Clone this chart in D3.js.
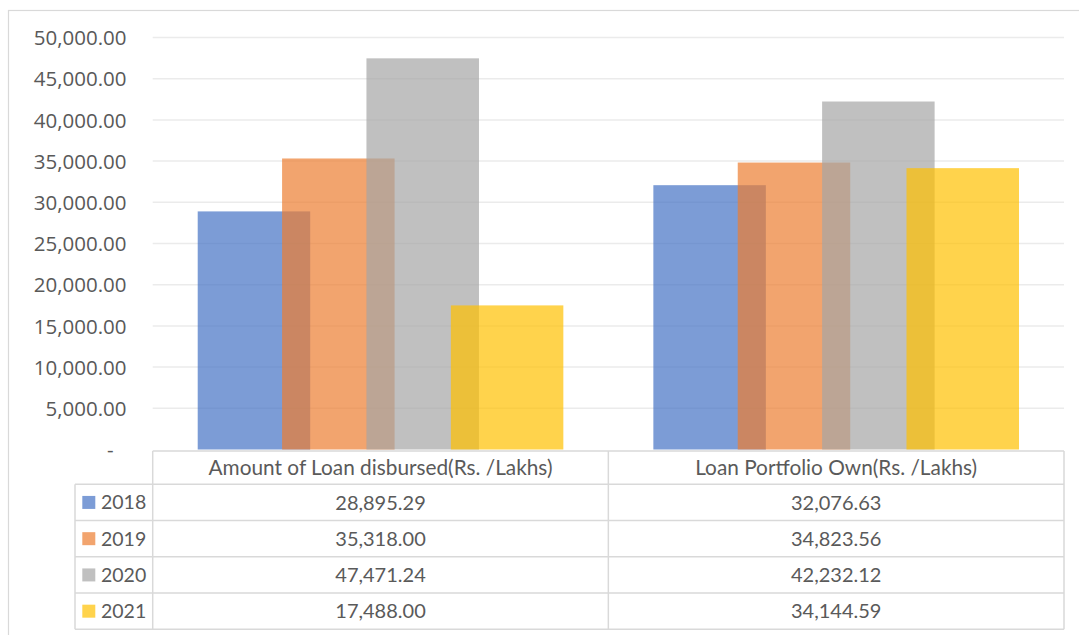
<!DOCTYPE html>
<html>
<head>
<meta charset="utf-8">
<script src="https://cdn.jsdelivr.net/npm/d3@7"></script>
<style>
  html, body { margin: 0; padding: 0; background: #fff; }
  svg { display: block; }
</style>
</head>
<body>
<svg id="chart" width="1079" height="635"></svg>
<script>
// Loan figures by year, in Rs. lakhs
const categories = ["Amount of Loan disbursed(Rs. /Lakhs)", "Loan Portfolio Own(Rs. /Lakhs)"];
const years = ["2018", "2019", "2020", "2021"];
const values2018 = [28895.29, 32076.63];
const values2019 = [35318.00, 34823.56];
const values2020 = [47471.24, 42232.12];
const values2021 = [17488.00, 34144.59];
const yTicks = [0, 5000, 10000, 15000, 20000, 25000, 30000, 35000, 40000, 45000, 50000];
const colors = ["#4472c4", "#ed7d31", "#a5a5a5", "#ffc000"];

const seriesValues = [values2018, values2019, values2020, values2021];
const series = years.map((y, i) => ({ year: y, color: colors[i], values: seriesValues[i] }));

const svg = d3.select("#chart");

// outer frame
svg.append("rect")
  .attr("x", 8.5).attr("y", 10.5)
  .attr("width", 1090).attr("height", 640)
  .attr("fill", "none").attr("stroke", "#d9d9d9").attr("stroke-width", 1.2);

const plotLeft = 152.7, plotRight = 1064, plotTop = 37.5, plotBottom = 449.5;

const x = d3.scaleBand().domain(categories).range([plotLeft, plotRight]).padding(0);
const y = d3.scaleLinear().domain([0, 50000]).range([plotBottom, plotTop]);

// gridlines
svg.append("g")
  .selectAll("line")
  .data(yTicks.filter(t => t > 0))
  .join("line")
  .attr("x1", plotLeft).attr("x2", plotRight)
  .attr("y1", d => y(d)).attr("y2", d => y(d))
  .attr("stroke", "#ebebeb").attr("stroke-width", 1.5);

// y axis labels
const fmt = d3.format(",.2f");
const yAxis = d3.axisLeft(y).tickValues(yTicks).tickSize(0).tickPadding(0)
  .tickFormat(d => d === 0 ? "-" : fmt(d));
const yAxisG = svg.append("g").attr("transform", "translate(126.5,0)").call(yAxis);
yAxisG.select(".domain").remove();
yAxisG.selectAll("text")
  .attr("font-family", "'Open Sans', sans-serif")
  .attr("font-size", 20.5)
  .attr("fill", "#595959")
  .attr("dy", "0.35em")
  .attr("dx", d => d === 0 ? -13 : 0);

// overlapping clustered bars
const overlap = 0.25, gap = 0.8;
const barW = x.bandwidth() / (years.length - (years.length - 1) * overlap + gap);
const step = barW * (1 - overlap);
const groupW = step * (years.length - 1) + barW;

const barsG = svg.append("g");
series.forEach((s, si) => {
  barsG.append("g")
    .selectAll("rect")
    .data(categories.map((c, ci) => ({ c, v: s.values[ci] })))
    .join("rect")
    .attr("x", d => x(d.c) + (x.bandwidth() - groupW) / 2 + si * step)
    .attr("width", barW)
    .attr("y", d => y(d.v))
    .attr("height", d => y(0) - y(d.v))
    .attr("fill", s.color)
    .attr("fill-opacity", 0.7);
});

// data table
const tableFont = "Lato, 'Open Sans', sans-serif";
const headerTop = 451, headerBottom = 484.3, tableBottom = 629.3;
const legendLeft = 75;
const rows = d3.scaleBand().domain(years).range([headerBottom, tableBottom]);
const lineColor = "#d9d9d9";
const textColor = "#5a5a5a";
const tbl = svg.append("g");

// horizontal rules
tbl.append("line")
  .attr("x1", plotLeft).attr("x2", plotRight)
  .attr("y1", headerTop).attr("y2", headerTop)
  .attr("stroke", lineColor).attr("stroke-width", 1.5);
tbl.selectAll("line.row")
  .data(years.concat(["end"]))
  .join("line")
  .attr("class", "row")
  .attr("x1", legendLeft).attr("x2", plotRight)
  .attr("y1", d => d === "end" ? tableBottom : rows(d))
  .attr("y2", d => d === "end" ? tableBottom : rows(d))
  .attr("stroke", lineColor).attr("stroke-width", 1.5);

// vertical rules
const vlines = [
  { x: legendLeft, y1: headerBottom },
  { x: plotLeft, y1: headerTop },
  { x: x(categories[1]), y1: headerTop },
  { x: plotRight, y1: headerTop }
];
tbl.selectAll("line.col")
  .data(vlines)
  .join("line")
  .attr("class", "col")
  .attr("x1", d => d.x).attr("x2", d => d.x)
  .attr("y1", d => d.y1).attr("y2", tableBottom)
  .attr("stroke", lineColor).attr("stroke-width", 1.5);

// header text
tbl.selectAll("text.head")
  .data(categories)
  .join("text")
  .attr("class", "head")
  .attr("x", d => x(d) + x.bandwidth() / 2)
  .attr("y", (headerTop + headerBottom) / 2)
  .attr("dy", "0.36em")
  .attr("text-anchor", "middle")
  .attr("font-family", tableFont)
  .attr("font-size", 20.8)
  .attr("fill", textColor)
  .text(d => d);

// legend keys and values
series.forEach(s => {
  const cy = rows(s.year) + rows.bandwidth() / 2;
  tbl.append("rect")
    .attr("x", 82.3).attr("y", cy - 6.5)
    .attr("width", 13).attr("height", 13)
    .attr("fill", s.color).attr("fill-opacity", 0.7);
  tbl.append("text")
    .attr("x", 101)
    .attr("y", cy)
    .attr("dy", "0.36em")
    .attr("font-family", tableFont)
    .attr("font-size", 19.5)
    .attr("fill", textColor)
    .text(s.year);
  categories.forEach((c, ci) => {
    tbl.append("text")
      .attr("x", x(c) + x.bandwidth() / 2)
      .attr("y", cy)
      .attr("dy", "0.36em")
      .attr("text-anchor", "middle")
      .attr("font-family", tableFont)
      .attr("font-size", 20)
      .attr("fill", textColor)
      .text(fmt(s.values[ci]));
  });
});
</script>
</body>
</html>
